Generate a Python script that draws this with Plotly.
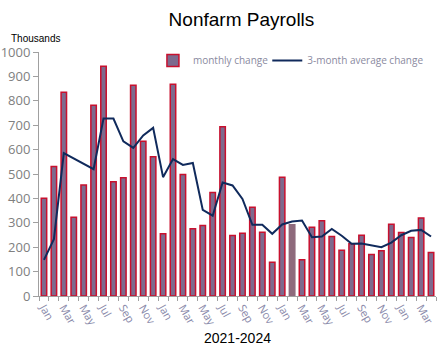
import plotly.graph_objects as go

months = ["Jan","Feb","Mar","Apr","May","Jun","Jul","Aug","Sep","Oct","Nov","Dec"] * 3 + ["Jan","Feb","Mar","Apr"]
years = [2021]*12 + [2022]*12 + [2023]*12 + [2024]*4

monthly_change = [401, 531, 835, 323, 455, 782, 942, 468, 485, 864, 634, 571,
                  255, 868, 498, 276, 289, 424, 694, 248, 257, 364, 261, 138,
                  487, 292, 149, 282, 308, 244, 188, 214, 249, 170, 185, 294,
                  260, 240, 320, 178]
avg_change = [148, 233, 586, 563, 542, 520, 727, 727, 634, 607, 658, 689,
              487, 561, 537, 545, 353, 329, 465, 453, 398, 292, 292, 255,
              293, 305, 309, 241, 244, 275, 247, 214, 215, 208, 200, 219,
              249, 267, 271, 244]

y_ticks = [0, 100, 200, 300, 400, 500, 600, 700, 800, 900, 1000]

x = list(range(len(months)))
tick_idx = x[::2]
tick_text = [months[i] for i in tick_idx]

line_colors = ["#c8102e"] * len(x)
fill_colors = ["#7d6a8e"] * len(x)
line_colors[25] = "#8e6a7c"
fill_colors[25] = "#8e6a7c"

fig = go.Figure()
fig.add_trace(go.Bar(
    x=x, y=monthly_change, name="monthly change",
    marker=dict(color=fill_colors, line=dict(color=line_colors, width=1.5)),
    width=0.55, legend="legend",
))
fig.add_trace(go.Scatter(
    x=x, y=avg_change, name="3-month average change", mode="lines",
    line=dict(color="#102a5c", width=2), legend="legend2",
))

legend_font = dict(family="Open Sans", size=10, color="#8a8aa0")
fig.update_layout(
    width=443, height=354,
    margin=dict(l=39, r=7, t=52, b=58, autoexpand=False),
    paper_bgcolor="white", plot_bgcolor="white",
    title=dict(text="Nonfarm Payrolls", xref="paper", x=0.51, xanchor="center", y=0.945, yanchor="middle",
               font=dict(family="Liberation Sans, Arial", size=19, color="black")),
    showlegend=True,
    legend=dict(x=0.287, y=1.025, xanchor="left", yanchor="top",
                font=legend_font, bgcolor="rgba(0,0,0,0)"),
    legend2=dict(x=0.575, y=1.025, xanchor="left", yanchor="top",
                 font=legend_font, bgcolor="rgba(0,0,0,0)"),
)
fig.update_xaxes(
    range=[-0.5, len(x) - 0.5], automargin=False,
    tickmode="array", tickvals=tick_idx, ticktext=tick_text,
    tickangle=60, ticks="", showline=True, linecolor="#a0a0a0", linewidth=1,
    tickfont=dict(family="Open Sans", size=11, color="#8a8aaa"),
    showgrid=False, zeroline=False,
    minor=dict(tickmode="array", tickvals=[i - 0.5 for i in range(len(x) + 1)],
               ticks="outside", ticklen=4, tickcolor="#a0a0a0", showgrid=False),
    title=dict(text="2021-2024", font=dict(family="Liberation Sans, Arial", size=14, color="black"), standoff=6),
)
fig.update_yaxes(
    range=[0, 1000], tickmode="array", tickvals=y_ticks, automargin=False,
    ticks="outside", ticklen=5, tickcolor="#a0a0a0",
    showline=True, linecolor="#a0a0a0", linewidth=1,
    tickfont=dict(family="Open Sans", size=13, color="#808080"),
    showgrid=False, zeroline=False,
)
fig.add_annotation(text="Thousands", xref="paper", yref="paper", x=-0.076, y=1.055,
                   xanchor="left", yanchor="middle", showarrow=False,
                   font=dict(family="Liberation Sans, Arial", size=10, color="black"))

fig.write_html("out.html")
